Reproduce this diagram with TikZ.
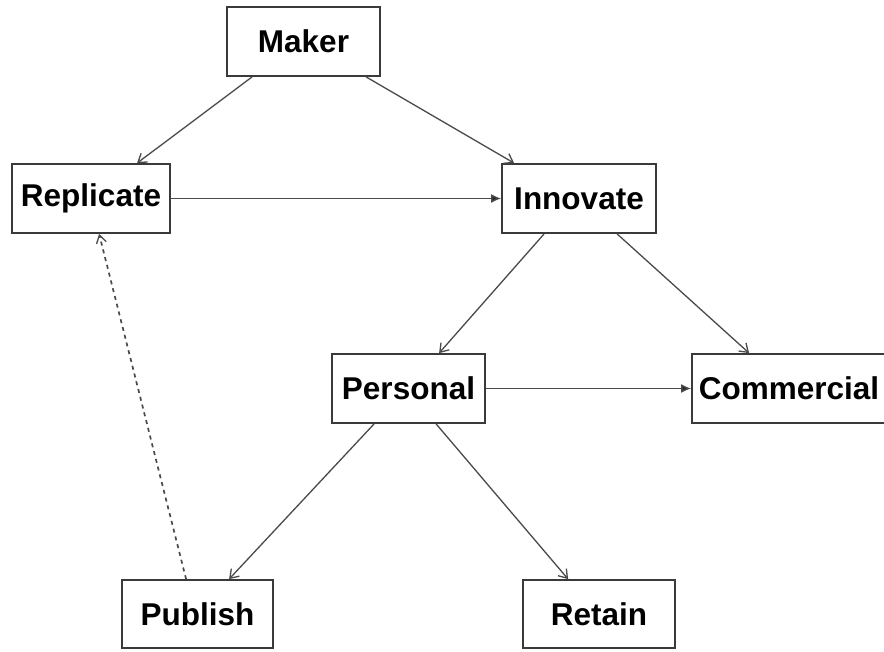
\documentclass[tikz,border=0pt]{standalone}
\usepackage{fontspec}
\setmainfont{Liberation Sans}
\usetikzlibrary{arrows.meta,calc}
\definecolor{edgegray}{HTML}{4A4A4A}
\definecolor{boxgray}{HTML}{3A3A3A}
\tikzset{
  stagebox/.style={draw=boxgray, line width=1.8pt, fill=white, inner sep=0pt,
    minimum height=69pt, font=\fontsize{31.5}{37}\selectfont\bfseries},
  flow/.style={draw=edgegray, line width=1.3pt, -{Straight Barb[length=8pt,width=11pt,line width=1.3pt]}},
  mainflow/.style={draw=edgegray, line width=1.4pt, -{Latex[length=10pt,width=9pt,fill=black!85]}},
  backflow/.style={draw=edgegray, line width=1.7pt, dash pattern=on 4pt off 4pt,
    -{Straight Barb[length=8pt,width=10pt,line width=1.3pt]}}
}
\begin{document}
\begin{tikzpicture}[x=1pt,y=-1pt]
  \useasboundingbox (0,0) rectangle (884,651);
  \fill[white] (0,0) rectangle (884,651);

  % stages of the making process
  \node[stagebox, minimum width=153pt] (maker)      at (303.5,41.5) {Maker};
  \node[stagebox, minimum width=158pt] (replicate)  at (91,198.5)   {Replicate};
  \node[stagebox, minimum width=154pt] (innovate)   at (579,198.5)  {Innovate};
  \node[stagebox, minimum width=153pt] (personal)   at (408.5,388.5) {Personal};
  \node[stagebox, minimum width=194pt] (commercial) at (789,388.5)  {Commercial};
  \node[stagebox, minimum width=151pt, minimum height=68pt] (publish) at (197.5,614) {Publish};
  \node[stagebox, minimum width=152pt, minimum height=68pt] (retain)  at (599,614)   {Retain};

  % connections
  \draw[flow] ($(maker.south west)+(26,0)$)      -- ($(replicate.north west)+(126,0)$);
  \draw[flow] ($(maker.south west)+(140,0)$)     -- ($(innovate.north west)+(13,0)$);
  \draw[mainflow] (replicate.east) -- (innovate.west);
  \draw[flow] ($(innovate.south west)+(43,0)$)   -- ($(personal.north west)+(108,0)$);
  \draw[flow] ($(innovate.south west)+(116,0)$)  -- ($(commercial.north west)+(58,0)$);
  \draw[mainflow] (personal.east) -- (commercial.west);
  \draw[flow] ($(personal.south west)+(43,0)$)   -- ($(publish.north west)+(108,0)$);
  \draw[flow] ($(personal.south west)+(105,0)$)  -- ($(retain.north west)+(46,0)$);
  \draw[backflow] ($(publish.north west)+(65,0)$) -- ($(replicate.south west)+(88,0)$);
\end{tikzpicture}
\end{document}
